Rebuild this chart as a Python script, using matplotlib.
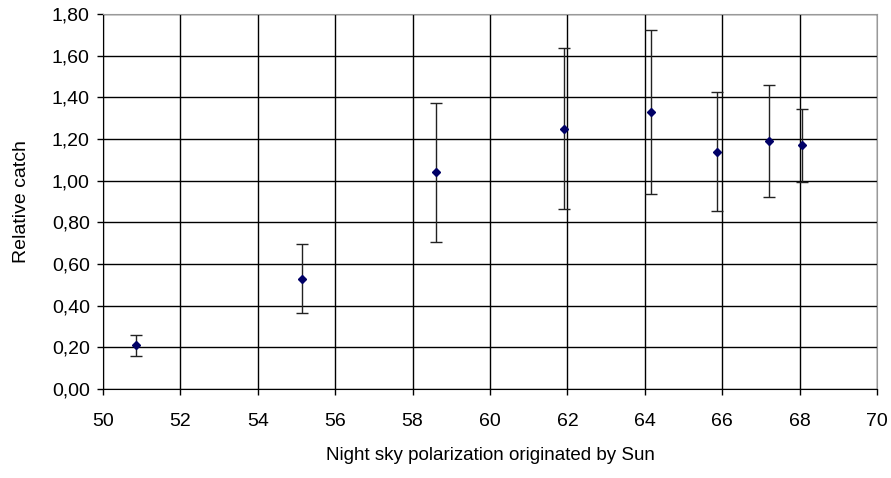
import numpy as np
import matplotlib
matplotlib.use("Agg")
import matplotlib.pyplot as plt
from matplotlib.ticker import FuncFormatter, MultipleLocator

# values
polarization = [50.85, 55.15, 58.6, 61.92, 64.16, 65.86, 67.22, 68.06]
relative_catch = [0.21, 0.53, 1.04, 1.25, 1.33, 1.14, 1.19, 1.17]
error = [0.05, 0.165, 0.335, 0.385, 0.395, 0.285, 0.27, 0.175]

plt.rcParams["font.family"] = ["Liberation Sans", "DejaVu Sans"]

fig = plt.figure(figsize=(8.91, 4.78), dpi=100)
ax = fig.add_axes([0.1156, 0.1862, 0.8687, 0.7845])

ax.errorbar(polarization, relative_catch, yerr=error, fmt="D",
            color="#000066", markersize=4, ecolor="#222222",
            elinewidth=1, capsize=4, capthick=1, zorder=3)

ax.set_xlim(50, 70)
ax.set_ylim(0, 1.8)
ax.xaxis.set_major_locator(MultipleLocator(2))
ax.yaxis.set_major_locator(MultipleLocator(0.2))
ax.yaxis.set_major_formatter(FuncFormatter(lambda v, p: f"{v:.2f}".replace(".", ",")))

ax.grid(True, color="black", linewidth=1)
ax.set_axisbelow(True)
ax.tick_params(direction="out", length=4.5, width=1, labelsize=14)
ax.tick_params(axis="x", pad=13)
ax.tick_params(axis="y", pad=5)

for side in ("top", "right"):
    ax.spines[side].set_color("#999999")
for side in ("left", "bottom"):
    ax.spines[side].set_color("black")

ax.set_xlabel("Night sky polarization originated by Sun", fontsize=13.5, labelpad=12)
ax.set_ylabel("Relative catch", fontsize=14, labelpad=16)

fig.savefig("out.png", dpi=100)
